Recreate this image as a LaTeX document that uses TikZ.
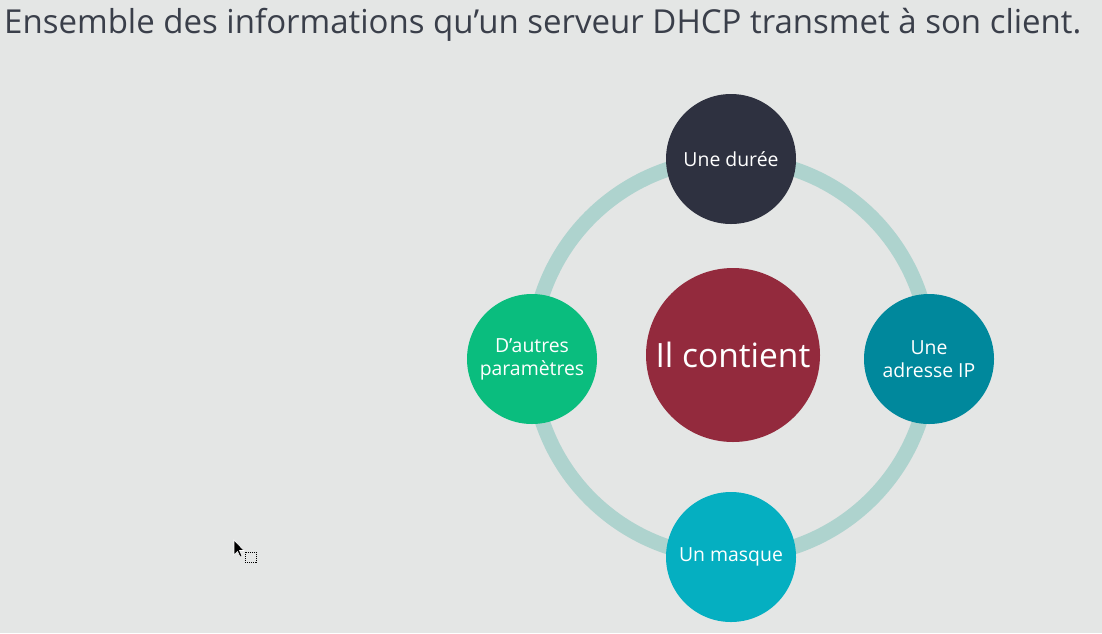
\documentclass[tikz,border=0pt]{standalone}
\usepackage{fontspec}
\setmainfont{Open Sans}
\begin{document}
\begin{tikzpicture}[x=1pt,y=-1pt,
  bubble/.style={circle,minimum size=130pt,inner sep=0pt,text=white,align=center,
    font=\fontsize{19.4}{23}\selectfont},
  ringline/.style={draw=ringc,line width=15pt}]
\definecolor{bgc}{HTML}{E4E6E5}
\definecolor{ringc}{HTML}{AED3CE}
\definecolor{titlec}{HTML}{3A3F4A}
\definecolor{topc}{HTML}{2E3140}
\definecolor{leftc}{HTML}{0ABD7E}
\definecolor{rightc}{HTML}{00889C}
\definecolor{bottomc}{HTML}{05AFC1}
\definecolor{centerc}{HTML}{932A3D}
\fill[bgc] (0,0) rectangle (1102,633);
\useasboundingbox (0,0) rectangle (1102,633);
% heading
\node[anchor=west,text=titlec,inner sep=0pt,font=\fontsize{33}{38}\selectfont] (title) at (4,25)
  {Ensemble des informations qu’un serveur DHCP transmet à son client.};
% ring joining the outer bubbles
\coordinate (hub) at (731,358);
\draw[ringline] (hub) circle[radius=199pt];
% bubbles
\node[bubble,fill=centerc,minimum size=174pt,font=\fontsize{33.5}{40}\selectfont] (center) at (733,355) {Il contient};
\node[bubble,fill=topc] (top) at (731,159) {Une durée};
\node[bubble,fill=rightc] (right) at (929,359) {Une\\adresse IP};
\node[bubble,fill=bottomc] (bottom) at (731,557) {Un masque};
\node[bubble,fill=leftc] (left) at (532,359) {D’autres\\paramètres};
% pointer with its selection box
\fill[black,draw=white,line width=0.6pt] (234,540) -- (234,555) -- (237.5,551.5) -- (240,557) -- (242,556) -- (239.5,550.5) -- (244,550.5) -- cycle;
\draw[black,densely dotted,line width=1pt] (245,552) rectangle (256,562);
\end{tikzpicture}
\end{document}
